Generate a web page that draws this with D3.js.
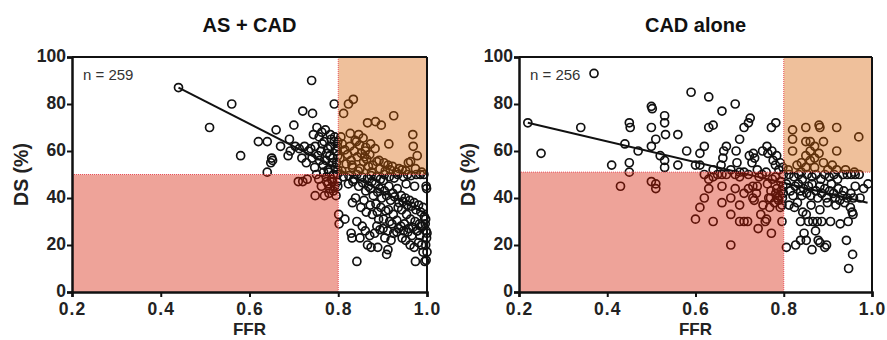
<!DOCTYPE html>
<html>
<head>
<meta charset="utf-8">
<script src="https://cdn.jsdelivr.net/npm/d3@7"></script>
<style>
  body { margin: 0; background: #fff; }
  svg { display: block; font-family: "Liberation Sans", Arial, sans-serif; }
</style>
</head>
<body>
<svg id="chart" width="887" height="340"></svg>
<script>
// chart data
const titles = ['AS + CAD', 'CAD alone'];
const nLabels = ['n = 259', 'n = 256'];
const xTicks = [0.2, 0.4, 0.6, 0.8, 1.0];
const yTicks = [0, 20, 40, 60, 80, 100];
const ffrCut = 0.8;
const dsCuts = [50, 51];

// [FFR, DS %] per lesion
const asCad = [
  [0.44,87],[0.51,70],[0.56,80],[0.58,58],[0.62,64],[0.64,64],[0.64,51],[0.65,57],[0.652,56],[0.648,55],
  [0.66,69],[0.67,62],[0.69,65],[0.692,60],[0.687,58],[0.70,71],[0.703,62],[0.712,61],[0.72,77],[0.724,62],
  [0.718,57],[0.733,60],[0.728,55],[0.74,90],[0.742,76],[0.738,61],[0.744,67],[0.71,47],[0.72,47],[0.73,48],
  [0.752,70],[0.763,68],[0.757,66],[0.771,69],[0.768,64],[0.782,67],[0.748,62],[0.754,58],[0.761,60],[0.758,56],
  [0.766,54],[0.774,59],[0.772,56],[0.777,52],[0.783,62],[0.781,58],[0.786,55],[0.779,51],[0.791,64],[0.794,60],
  [0.788,57],[0.793,53],[0.789,50],[0.798,62],[0.797,60],[0.799,58],[0.796,55],[0.799,52],[0.798,50],[0.747,53],
  [0.741,57],[0.791,80],[0.764,63],[0.776,61],[0.784,65],[0.799,64],[0.792,66],[0.751,50],[0.767,51],[0.773,49],
  [0.748,41],[0.769,41],[0.762,45],[0.774,47],[0.781,44],[0.777,46],[0.785,48],[0.789,43],[0.792,45],[0.787,47],
  [0.795,41],[0.799,45],[0.798,47],[0.801,33],[0.802,29],[0.756,48],[0.779,42],
  [0.812,76],[0.823,80],[0.834,82],[0.806,66],[0.827,67.5],[0.809,63],[0.815,60.5],[0.804,57],[0.818,54.5],[0.808,51.5],
  [0.826,62],[0.821,58.5],[0.829,56],[0.832,53],[0.838,64.5],[0.836,60],[0.843,57.5],[0.831,54],[0.845,51.5],[0.846,67],
  [0.848,62.5],[0.852,59],[0.857,55.5],[0.849,52.5],[0.856,65.5],[0.861,60],[0.864,56.5],[0.868,53.5],[0.866,72],[0.873,63],
  [0.871,58.5],[0.878,54],[0.883,61],[0.887,55.5],[0.875,51],[0.884,72.5],[0.892,56],[0.894,52.5],[0.897,71],[0.903,55],
  [0.906,51.5],[0.912,54],[0.917,52],[0.914,63],[0.922,53.5],[0.925,75],[0.931,51],[0.937,52.5],[0.944,52],[0.952,51.5],
  [0.958,55],[0.968,67],[0.969,62],[0.978,58],[0.963,55.5],[0.974,52.5],[0.988,51],[0.859,57.5],[0.862,61.5],[0.841,64],
  [0.811,49],[0.824,49.5],[0.835,48],[0.842,50],[0.853,49],[0.866,48.5],[0.874,49.5],[0.886,49],[0.895,48],[0.904,50],
  [0.915,49],[0.926,48.5],[0.934,50],[0.947,49],[0.956,50],[0.964,49.5],[0.976,50],[0.985,50],[0.993,50],[0.998,45],
  [0.999,44],[0.823,46],[0.833,47],[0.846,45],[0.855,46.5],[0.862,43],[0.868,45],[0.873,44],[0.879,41],[0.884,46],
  [0.889,42.5],[0.893,44],[0.898,40],[0.904,43],[0.909,41],[0.914,45],[0.918,39],[0.923,42],[0.927,40.5],[0.933,44],
  [0.937,38],[0.942,41],[0.946,38.5],[0.951,40],[0.955,37],[0.961,39],[0.965,36.5],[0.971,38],[0.975,35],[0.981,37],
  [0.986,34],[0.991,36],[0.994,32],[0.876,47],[0.902,47.5],[0.953,46],[0.972,45],[0.832,38],[0.839,40],[0.851,36],
  [0.858,39],[0.863,34],[0.872,37],[0.877,33],[0.885,37.5],[0.888,34],[0.896,36],[0.891,31],[0.907,34.5],[0.902,31],
  [0.913,35],[0.916,30],[0.924,33],[0.921,29],[0.935,36],[0.932,30.5],[0.943,35],[0.941,28],[0.954,33],[0.949,29],
  [0.963,31],[0.959,27],[0.973,30],[0.968,27.5],[0.983,29],[0.979,26],[0.989,28],[0.997,31],[0.996,29],[0.815,31],
  [0.842,30],[0.829,25],[0.831,23],[0.842,13],[0.854,28],[0.849,23],[0.861,26],[0.866,20],[0.871,24],[0.874,19],
  [0.882,25],[0.887,28],[0.894,26.5],[0.889,19],[0.901,27],[0.905,23],[0.911,26],[0.909,16],[0.912,18],[0.925,25],
  [0.919,22],[0.932,25.5],[0.936,27],[0.944,23],[0.947,26],[0.952,22],[0.957,25.5],[0.962,20],[0.966,24],[0.971,19],
  [0.974,13],[0.977,26],[0.984,24],[0.981,21],[0.991,17],[0.995,13],[0.998,26],[1.0,25],[0.999,23],[0.997,20],
  [1.0,17],[0.998,13.5],[0.988,20],[0.986,28]
];

const cadAlone = [
  [0.22,72],[0.25,59],[0.34,70],[0.37,93],[0.41,54],[0.44,63],[0.45,72],[0.452,70],[0.45,55],[0.47,60],
  [0.50,79],[0.502,78],[0.50,70],[0.50,62],[0.51,65],[0.53,75],[0.53,72],[0.532,67],[0.52,58],[0.53,56],
  [0.53,53],[0.56,67],[0.56,54],[0.58,60],[0.59,85],[0.61,59],[0.61,54],[0.62,62],[0.63,83],[0.63,70],
  [0.64,71],[0.66,77],[0.662,57],[0.658,54],[0.664,60],[0.67,62],[0.69,80],[0.692,60],[0.694,55],[0.70,65],
  [0.71,70],[0.72,72],[0.724,74],[0.70,51],[0.722,58],[0.731,59],[0.734,57],[0.728,55],[0.74,52],[0.752,60],
  [0.762,62],[0.764,59],[0.773,60],[0.772,70],[0.782,72],[0.776,56],[0.784,58],[0.781,54],[0.792,55],[0.789,52],
  [0.798,53],[0.68,52],[0.64,52],[0.60,54],
  [0.43,45],[0.45,51],[0.50,47],[0.51,46],[0.51,44],[0.60,31],[0.61,36],[0.62,40],[0.63,44],[0.63,48],
  [0.64,49],[0.64,30],[0.65,50],[0.66,45],[0.66,38],[0.67,50],[0.68,40],[0.68,33],[0.68,20],[0.69,50],
  [0.69,44],[0.70,37],[0.70,30],[0.71,30],[0.71,42],[0.72,44],[0.718,30],[0.72,50],[0.73,45],[0.73,40],
  [0.733,39],[0.742,27],[0.744,49],[0.738,42],[0.751,50],[0.753,37],[0.748,33],[0.761,31],[0.758,30],[0.763,46],
  [0.766,40],[0.772,25],[0.774,48],[0.771,43],[0.768,36],[0.782,42],[0.786,40],[0.779,38],[0.784,44],[0.781,49],
  [0.791,41],[0.788,39],[0.794,43],[0.792,36],[0.796,30],[0.793,47],[0.799,42],[0.797,40],[0.798,45],[0.799,50],
  [0.796,37],[0.62,50],[0.66,50],[0.70,49],[0.71,51],[0.74,45],[0.76,51],[0.77,40],
  [0.82,69],[0.85,70],[0.88,71],[0.882,70],[0.92,70],[0.97,66],[0.82,65],[0.85,64],[0.87,62],[0.89,64],
  [0.82,60],[0.86,60],[0.88,59],[0.92,60],[0.84,55],[0.87,57],[0.89,55],[0.91,54],[0.83,54],[0.85,53],
  [0.87,53],[0.92,52],[0.85,58],[0.86,56],[0.84,51],[0.90,52],[0.94,52],[0.96,51],[0.81,52],[0.86,64],
  [0.812,50],[0.823,49],[0.834,50],[0.842,48],[0.853,50],[0.864,49],[0.873,50],[0.884,48],[0.893,50],[0.903,49],
  [0.914,50],[0.922,48],[0.934,50],[0.944,50],[0.953,50],[0.962,50],[0.971,50],
  [0.806,46],[0.815,43],[0.826,45],[0.821,41],[0.833,46],[0.838,43],[0.845,44],[0.841,41],[0.856,45],[0.852,42],
  [0.864,46],[0.861,41],[0.873,43],[0.877,40],[0.882,45],[0.886,42],[0.893,44],[0.897,40],[0.904,43],[0.908,46],
  [0.913,42],[0.917,40],[0.924,44],[0.927,39],[0.933,41],[0.936,43],[0.944,40],[0.952,42],[0.962,45],[0.958,40],
  [0.991,46],[0.973,40],[0.981,44],
  [0.812,37],[0.824,36],[0.831,38],[0.843,34],[0.851,33],[0.838,30],[0.856,30],[0.866,30],[0.876,30],[0.886,30],
  [0.906,30],[0.928,29],[0.946,30],[0.957,33],[0.955,34],[0.951,36],[0.862,37],[0.882,35],[0.899,38],[0.918,37],
  [0.938,38],
  [0.806,19],[0.827,20],[0.838,22],[0.846,25],[0.851,22],[0.864,18],[0.872,26],[0.878,22],[0.882,21],[0.893,19],
  [0.897,20],[0.942,22],[0.947,10],[0.956,16]
];

// regression line end points [FFR, DS]
const fitAsCad = [[0.44, 87], [1.0, 33]];
const fitCadAlone = [[0.22, 72], [0.99, 38]];

const svg = d3.select('#chart');
const plotTop = 57, plotBottom = 292;

const panels = [
  { left: 72, right: 427, data: asCad, fit: fitAsCad },
  { left: 519, right: 872, data: cadAlone, fit: fitCadAlone }
];

panels.forEach((p, i) => {
  const x = d3.scaleLinear().domain([0.2, 1.0]).range([p.left, p.right]);
  const y = d3.scaleLinear().domain([0, 100]).range([plotBottom, plotTop]);
  const g = svg.append('g');
  const dsCut = dsCuts[i];

  // points
  g.append('g').selectAll('circle')
    .data(p.data)
    .enter()
    .append('circle')
    .attr('cx', d => x(d[0]))
    .attr('cy', d => y(d[1]))
    .attr('r', 4)
    .attr('fill', 'none')
    .attr('stroke', '#111')
    .attr('stroke-width', 1.7);

  // regression line
  g.append('line')
    .attr('x1', x(p.fit[0][0])).attr('y1', y(p.fit[0][1]))
    .attr('x2', x(p.fit[1][0])).attr('y2', y(p.fit[1][1]))
    .attr('stroke', '#111')
    .attr('stroke-width', 2);

  // shaded zones drawn over the points
  g.append('rect')
    .attr('x', x(0.2)).attr('y', y(dsCut))
    .attr('width', x(ffrCut) - x(0.2)).attr('height', y(0) - y(dsCut))
    .attr('fill', 'rgb(212,25,0)').attr('fill-opacity', 0.4);

  g.append('rect')
    .attr('x', x(ffrCut)).attr('y', y(100))
    .attr('width', x(1.0) - x(ffrCut)).attr('height', y(dsCut) - y(100))
    .attr('fill', 'rgb(214,98,6)').attr('fill-opacity', 0.4);

  // dotted zone borders
  g.append('line')
    .attr('x1', x(0.2)).attr('x2', x(1.0))
    .attr('y1', y(dsCut)).attr('y2', y(dsCut))
    .attr('stroke', '#e8505a').attr('stroke-width', 1)
    .attr('stroke-dasharray', '1,1');
  g.append('line')
    .attr('x1', x(ffrCut)).attr('x2', x(ffrCut))
    .attr('y1', y(0)).attr('y2', y(100))
    .attr('stroke', '#e8505a').attr('stroke-width', 1)
    .attr('stroke-dasharray', '1,1');

  // frame top and right
  g.append('line')
    .attr('x1', x(0.2)).attr('x2', x(1.0))
    .attr('y1', y(100)).attr('y2', y(100))
    .attr('stroke', '#111').attr('stroke-width', 2);
  g.append('line')
    .attr('x1', x(1.0)).attr('x2', x(1.0))
    .attr('y1', y(0)).attr('y2', y(100))
    .attr('stroke', '#111').attr('stroke-width', 2);

  // axes
  const xAxis = g.append('g')
    .attr('transform', `translate(0,${plotBottom})`)
    .call(d3.axisBottom(x).tickValues(xTicks).tickSize(5).tickPadding(6).tickFormat(d3.format('.1f')));
  const yAxis = g.append('g')
    .attr('transform', `translate(${p.left},0)`)
    .call(d3.axisLeft(y).tickValues(yTicks).tickSize(5).tickPadding(1).tickFormat(d3.format('d')));

  [xAxis, yAxis].forEach(a => {
    a.select('.domain').attr('stroke', '#111').attr('stroke-width', 2.5);
    a.selectAll('.tick line').attr('stroke', '#111').attr('stroke-width', 2);
    a.selectAll('.tick text')
      .attr('fill', '#222')
      .style('font-family', '"Liberation Sans", Arial, sans-serif')
      .style('font-size', '17.5px')
      .style('font-weight', 'bold');
  });
  xAxis.selectAll('.tick text').style('letter-spacing', '1px');
  yAxis.selectAll('.tick text').attr('dy', '0.28em');

  const cx = (p.left + p.right) / 2;

  // title
  g.append('text')
    .attr('x', cx).attr('y', 32)
    .attr('text-anchor', 'middle')
    .style('font-size', '20px').style('font-weight', 'bold')
    .attr('fill', '#111')
    .text(titles[i]);

  // n label
  g.append('text')
    .attr('x', p.left + 11).attr('y', 80)
    .style('font-size', '15px')
    .attr('fill', '#333')
    .text(nLabels[i]);

  // axis titles
  g.append('text')
    .attr('x', cx).attr('y', 335)
    .attr('text-anchor', 'middle')
    .style('font-size', '17px').style('font-weight', 'bold')
    .attr('fill', '#222')
    .text('FFR');

  g.append('text')
    .attr('transform', `translate(${p.left - 44},${(plotTop + plotBottom) / 2}) rotate(-90)`)
    .attr('text-anchor', 'middle')
    .style('font-size', '19.5px').style('font-weight', 'bold')
    .attr('fill', '#222')
    .text('DS (%)');
});
</script>
</body>
</html>
